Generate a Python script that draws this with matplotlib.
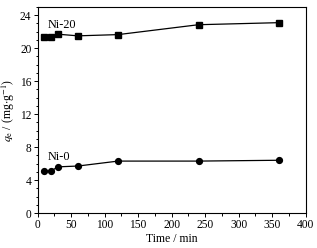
import matplotlib.pyplot as plt
from matplotlib.ticker import MultipleLocator

plt.rcParams['font.family'] = ['Liberation Serif', 'DejaVu Serif']
plt.rcParams['mathtext.fontset'] = 'stix'

time_min = [10, 20, 30, 60, 120, 240, 360]
ni20 = [21.35, 21.4, 21.7, 21.5, 21.65, 22.85, 23.1]
ni0 = [5.05, 5.1, 5.6, 5.7, 6.3, 6.3, 6.4]

fig = plt.figure(figsize=(3.17, 2.48), dpi=100)
ax = fig.add_axes([37.7 / 317, 35 / 248, 268 / 317, 206 / 248])

ax.plot(time_min, ni20, 'k-s', lw=0.9, ms=3.8)
ax.plot(time_min, ni0, 'k-o', lw=0.9, ms=4.2)

ax.text(15, 22.8, 'Ni-20', fontsize=8.8, va='center')
ax.text(15, 6.8, 'Ni-0', fontsize=8.8, va='center')

ax.set_xlim(0, 400)
ax.set_ylim(0, 25)
ax.xaxis.set_major_locator(MultipleLocator(50))
ax.xaxis.set_minor_locator(MultipleLocator(25))
ax.yaxis.set_major_locator(MultipleLocator(4))
ax.yaxis.set_minor_locator(MultipleLocator(1))
ax.tick_params(which='both', direction='out', labelsize=8.3, width=0.7, pad=1.5)
ax.tick_params(which='major', length=3)
ax.tick_params(which='minor', length=1.8)
for s in ax.spines.values():
    s.set_linewidth(0.8)

ax.set_xlabel('Time / min', fontsize=8.5, labelpad=1)
ax.set_ylabel(r'$q_{\rm e}$ / (mg$\cdot$g$^{-1}$)', fontsize=8.5, labelpad=2)

fig.savefig('out.png', dpi=100)
